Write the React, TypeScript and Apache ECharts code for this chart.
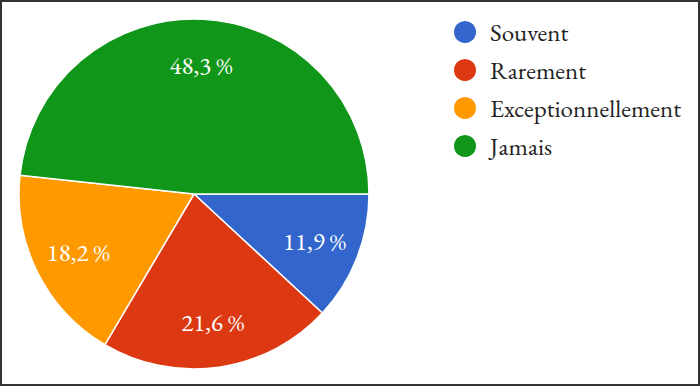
import React, { useEffect, useRef } from "react";
import * as echarts from "echarts";

const categories = ["Souvent", "Rarement", "Exceptionnellement", "Jamais"];
const values = [11.9, 21.6, 18.2, 48.3];
const colors = ["#3366cc", "#dc3912", "#ff9900", "#109618"];

const FONT = "EB Garamond";

export default function App() {
  const ref = useRef<HTMLDivElement>(null);
  useEffect(() => {
    document.body.style.margin = "0";
    const chart = echarts.init(ref.current!, null, { renderer: "svg" });
    const data = categories.map((name, i) => ({
      name,
      value: values[i],
      itemStyle: { color: colors[i] },
    }));
    chart.setOption({
      animation: false,
      backgroundColor: "#ffffff",
      textStyle: { fontFamily: FONT },
      graphic: [
        {
          type: "rect",
          shape: { x: 1, y: 1, width: 698, height: 384 },
          style: { fill: "none", stroke: "#333333", lineWidth: 2 },
          silent: true,
          z: 100,
        },
      ],
      legend: {
        orient: "vertical",
        left: 452,
        top: 19,
        padding: 0,
        icon: "circle",
        itemWidth: 24,
        itemHeight: 24,
        itemGap: 12,
        data: categories,
        textStyle: {
          fontFamily: FONT,
          fontSize: 25,
          color: "#222222",
          padding: [0, 0, 0, 8],
        },
      },
      series: [
        {
          type: "pie",
          center: [194, 194],
          radius: [0, 175],
          startAngle: 0,
          clockwise: true,
          label: { show: false },
          labelLine: { show: false },
          itemStyle: { borderColor: "#ffffff", borderWidth: 1.5 },
          emphasis: { disabled: true },
          data,
        },
        {
          type: "pie",
          center: [194, 194],
          radius: [78, 175],
          startAngle: 0,
          clockwise: true,
          silent: true,
          legendHoverLink: false,
          itemStyle: { color: "rgba(0,0,0,0)" },
          label: {
            show: true,
            position: "inside",
            color: "#ffffff",
            fontFamily: FONT,
            fontSize: 25,
            formatter: (p: any) => p.value.toFixed(1).replace(".", ",") + " %",
          },
          labelLine: { show: false },
          emphasis: { disabled: true },
          data: categories.map((name, i) => ({ name, value: values[i] })),
        },
      ],
    });
    return () => chart.dispose();
  }, []);
  return <div ref={ref} style={{ width: 700, height: 386 }} />;
}
